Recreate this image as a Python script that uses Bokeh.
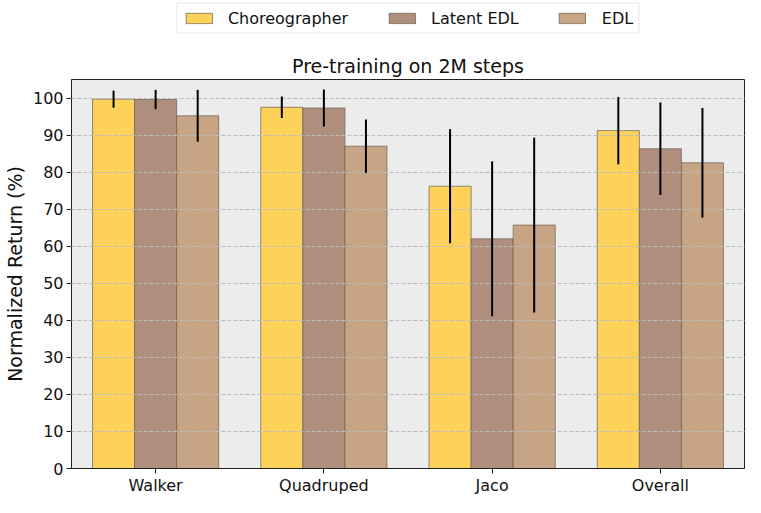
from bokeh.plotting import figure
from bokeh.layouts import column
from bokeh.models import (Legend, LegendItem, FixedTicker, ColumnDataSource,
                          Range1d)
from bokeh.embed import file_html
from bokeh.resources import INLINE

# ---- data ----
tasks = ["Walker", "Quadruped", "Jaco", "Overall"]
methods = ["Choreographer", "Latent EDL", "EDL"]
choreo_mean = [99.7, 97.5, 76.2, 91.2]
choreo_err = [2.3, 2.9, 15.4, 9.1]
latent_mean = [99.6, 97.3, 62.0, 86.3]
latent_err = [2.6, 5.0, 20.9, 12.5]
edl_mean = [95.2, 87.0, 65.7, 82.5]
edl_err = [7.0, 7.2, 23.6, 14.8]
y_ticks = list(range(0, 101, 10))

colors = ["#FED25A", "#B18F7F", "#C6A484"]
edge = "#6a6050"
means = [choreo_mean, latent_mean, edl_mean]
errs = [choreo_err, latent_err, edl_err]
bar_w = 0.25
offsets = [-bar_w, 0.0, bar_w]
FONT = "DejaVu Sans"

# ---- main chart ----
p = figure(width=745, height=461, output_backend="svg", toolbar_location=None,
           x_range=Range1d(-0.5, 3.5), y_range=Range1d(0, 105),
           min_border_left=64, min_border_right=1, min_border_top=43,
           min_border_bottom=20)
p.background_fill_color = "#ECECEC"
p.border_fill_color = "white"
p.outline_line_color = "#222222"
p.outline_line_width = 1

p.title.text = "Pre-training on 2M steps"
p.title.align = "center"
p.title.text_font = FONT
p.title.text_font_size = "19px"
p.title.text_font_style = "normal"
p.title.text_color = "#111111"
p.title.standoff = 6

bar_sources = []
for k in range(3):
    xs = [i + offsets[k] for i in range(len(tasks))]
    src = ColumnDataSource(dict(x=xs, top=means[k]))
    bar_sources.append(src)
    p.vbar(x="x", top="top", bottom=0, width=bar_w, source=src,
           fill_color=colors[k], line_color=edge, line_alpha=0.7, line_width=1)
for k in range(3):
    xs = [i + offsets[k] for i in range(len(tasks))]
    lo = [m - e for m, e in zip(means[k], errs[k])]
    hi = [m + e for m, e in zip(means[k], errs[k])]
    src = ColumnDataSource(dict(x=xs, lo=lo, hi=hi))
    p.segment(x0="x", y0="lo", x1="x", y1="hi", source=src,
              line_color="black", line_width=2, level="annotation")

p.xaxis.ticker = FixedTicker(ticks=list(range(len(tasks))))
p.xaxis.major_label_overrides = {i: t for i, t in enumerate(tasks)}
p.yaxis.ticker = FixedTicker(ticks=y_ticks)
p.yaxis.axis_label = "Normalized Return (%)"
for ax in (p.xaxis[0], p.yaxis[0]):
    ax.axis_line_color = "#222222"
    ax.major_tick_line_color = "#222222"
    ax.major_tick_out = 5
    ax.major_tick_in = 0
    ax.minor_tick_line_color = None
    ax.major_label_text_font = FONT
    ax.major_label_text_font_size = "16px"
    ax.major_label_text_color = "#111111"
    ax.major_label_standoff = 3
p.xaxis.major_label_standoff = 2
p.yaxis.axis_label_text_font = FONT
p.yaxis.axis_label_text_font_size = "19px"
p.yaxis.axis_label_text_font_style = "normal"
p.yaxis.axis_label_text_color = "#111111"
p.yaxis.axis_label_standoff = 4

p.xgrid.visible = False
p.ygrid.ticker = FixedTicker(ticks=y_ticks)
p.ygrid.grid_line_color = "#BBBBBB"
p.ygrid.grid_line_dash = "4 2"
p.ygrid.grid_line_width = 1
p.ygrid.level = "guide"

# ---- legend strip (same bar renderers, kept outside its visible range) ----
lg = figure(width=745, height=36, output_backend="svg", toolbar_location=None,
            x_range=Range1d(-0.5, 3.5), y_range=Range1d(1000, 1001),
            x_axis_location=None, y_axis_location=None,
            min_border_left=40, min_border_right=0, min_border_top=0,
            min_border_bottom=0)
lg.outline_line_color = None
lg.background_fill_color = "white"
lg.border_fill_color = "white"
lg.xgrid.visible = False
lg.ygrid.visible = False
items = []
for k in range(3):
    r = lg.vbar(x="x", top="top", bottom=0, width=bar_w, source=bar_sources[k],
                fill_color=colors[k], line_color=edge, line_alpha=0.7,
                line_width=1)
    items.append(LegendItem(label=methods[k], renderers=[r]))
legend = Legend(items=items, orientation="horizontal", location="center")
legend.label_text_font = FONT
legend.label_text_font_size = "16px"
legend.label_text_color = "#111111"
legend.glyph_width = 33
legend.glyph_height = 13
legend.label_standoff = 13
legend.spacing = 37
legend.padding = 5
legend.margin = 0
legend.border_line_color = "#CCCCCC"
legend.border_line_width = 1
lg.add_layout(legend, "center")

layout = column(lg, p, spacing=0)
open("out.html", "w").write(file_html(layout, INLINE))
